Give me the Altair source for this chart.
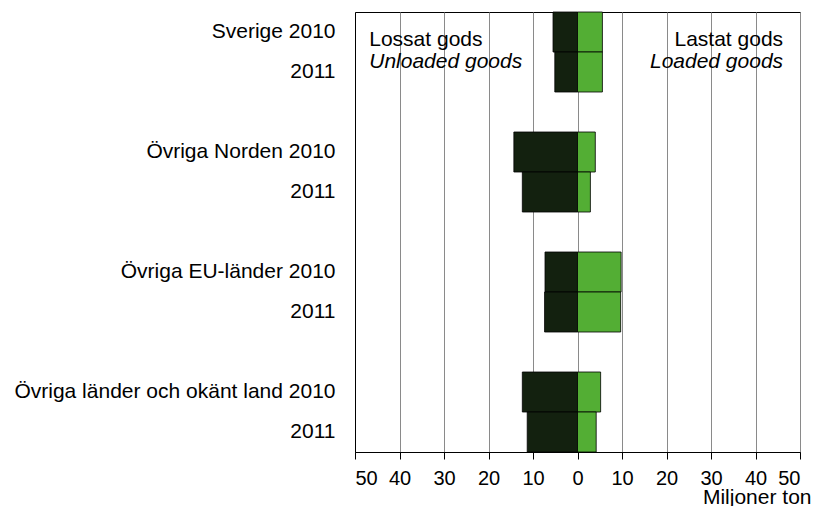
import altair as alt
import pandas as pd

# ---- data ----
groups = ["Sverige", "Övriga Norden", "Övriga EU-länder", "Övriga länder och okänt land"]
years = ["2010", "2011"]
unloaded_2010 = [5.5, 14.3, 7.3, 12.4]
unloaded_2011 = [5.1, 12.4, 7.4, 11.3]
loaded_2010 = [5.6, 4.0, 9.8, 5.2]
loaded_2011 = [5.6, 2.9, 9.7, 4.2]
x_ticks = [-50, -40, -30, -20, -10, 0, 10, 20, 30, 40, 50]

ann_text = ["Lossat gods", "Unloaded goods", "Lastat gods", "Loaded goods"]
ann_x = [-46.8, -46.8, 46.2, 46.2]
ann_style = ["normal", "italic", "normal", "italic"]
ann_align = ["left", "left", "right", "right"]

DARK = "#13210f"
LIGHT = "#53ae34"
FONT = "Liberation Sans"
FS = 21

# ---- build tables ----
order, labels, rows = [], [], []
unl = {"2010": unloaded_2010, "2011": unloaded_2011}
lod = {"2010": loaded_2010, "2011": loaded_2011}
for gi, g in enumerate(groups):
    for y in years:
        key = f"{g} {y}"
        order.append(key)
        labels.append(key if y == "2010" else y)
        rows.append({"row": key, "type": "Lossat", "value": -unl[y][gi]})
        rows.append({"row": key, "type": "Lastat", "value": lod[y][gi]})
    if gi < len(groups) - 1:
        gap = f"gap{gi}"
        order.append(gap)
        labels.append("")
df = pd.DataFrame(rows)

label_expr = "".join(
    f"datum.value === '{k}' ? '{l}' : " for k, l in zip(order, labels)
) + "''"

ann = pd.DataFrame({"text": ann_text, "x": ann_x, "style": ann_style,
                    "align": ann_align})

xscale = alt.Scale(domain=[-50, 50], nice=False)

bars = alt.Chart(df).mark_bar(stroke="black", strokeWidth=0.8).encode(
    x=alt.X("value:Q", scale=xscale, stack=None,
            axis=alt.Axis(values=x_ticks, labelExpr="format(abs(datum.value), 'd')",
                          grid=True, gridColor="#8a8a8a", gridWidth=1,
                          ticks=True, tickSize=7, tickColor="black",
                          domainColor="black", labelPadding=9,
                          labelFont=FONT, labelFontSize=20, labelColor="black",
                          title="Miljoner ton", titleFont=FONT, titleFontSize=FS,
                          titleFontWeight="normal", titleAlign="right",
                          titleX=456, titleY=51, titleBaseline="alphabetic",
                          titleColor="black")),
    y=alt.Y("row:N", sort=order, scale=alt.Scale(domain=order, paddingInner=0, paddingOuter=0),
            axis=alt.Axis(title=None, ticks=False, tickSize=0, labelPadding=20,
                          labelExpr=label_expr, domainColor="black", labelLimit=400,
                          labelFont=FONT, labelFontSize=FS, labelColor="black")),
    color=alt.Color("type:N", scale=alt.Scale(domain=["Lossat", "Lastat"], range=[DARK, LIGHT]),
                    legend=None),
)

layers = [bars]
for st, al in [("normal", "left"), ("italic", "left"), ("normal", "right"), ("italic", "right")]:
    sub = ann[(ann["style"] == st) & (ann["align"] == al)]
    yv = 34 if st == "normal" else 56
    t = alt.Chart(sub).mark_text(font=FONT, fontSize=FS, fontStyle=st, align=al,
                                 baseline="alphabetic", color="black").encode(
        x=alt.X("x:Q", scale=xscale),
        y=alt.value(yv),
        text="text:N",
    )
    layers.append(t)

chart = alt.layer(*layers).properties(
    width=445, height=440,
    autosize=alt.AutoSizeParams(type="none"),
    padding={"left": 347, "top": 4, "right": 11, "bottom": 54},
    background="white",
).configure_view(stroke="black", strokeWidth=1)

chart.save("out.html", embed_options={"renderer": "svg", "actions": False})
